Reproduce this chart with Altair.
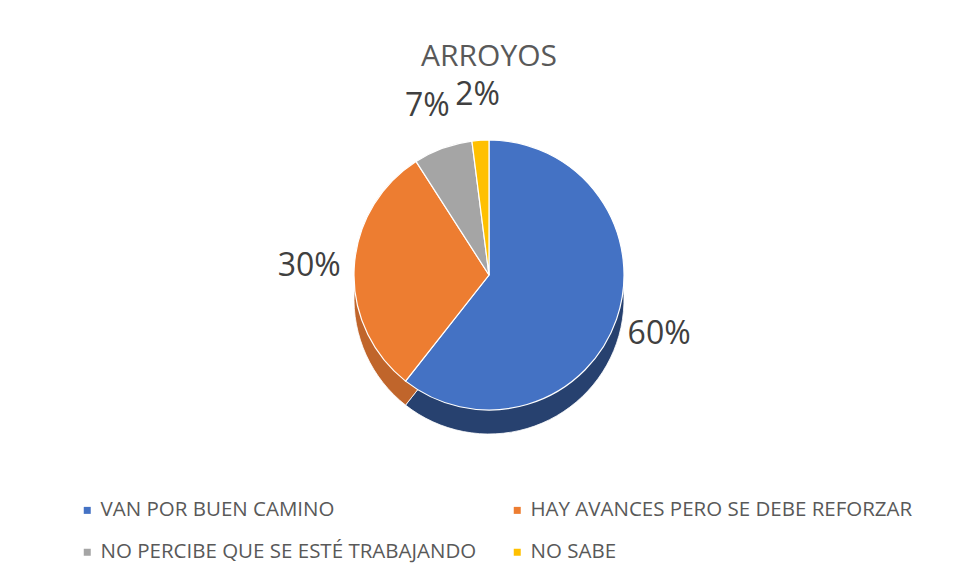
import altair as alt
import pandas as pd

categories = [
    "VAN POR BUEN CAMINO",
    "HAY AVANCES PERO SE DEBE REFORZAR",
    "NO PERCIBE QUE SE ESTÉ TRABAJANDO",
    "NO SABE",
]
values = [60, 30, 7, 2]
order_idx = [0, 1, 2, 3]

top_colors = ["#4472C4", "#ED7D31", "#A5A5A5", "#FFC000"]
side_colors = ["#27416F", "#C0652B", "#7C7C7C", "#BF9000"]

df = pd.DataFrame({"categoria": categories, "valor": values, "orden": order_idx})

FONT = "Open Sans"
R = 135
DEPTH = 24

base = alt.Chart(df).encode(
    theta=alt.Theta("valor:Q", stack=True),
    order=alt.Order("orden:O", sort="ascending"),
)

side = base.mark_arc(radius=R, yOffset=DEPTH, stroke="white", strokeWidth=0.8).encode(
    color=alt.Color(
        "categoria:N",
        sort=categories,
        scale=alt.Scale(domain=categories, range=side_colors),
        legend=None,
    )
)

top = base.mark_arc(radius=R, stroke="white", strokeWidth=1.2).encode(
    color=alt.Color(
        "categoria:N",
        sort=categories,
        scale=alt.Scale(domain=categories, range=top_colors),
        legend=alt.Legend(
            title=None,
            orient="none",
            legendX=49,
            legendY=419,
            columns=2,
            direction="horizontal",
            symbolType="square",
            symbolSize=49,
            symbolStrokeWidth=0,
            labelFont=FONT,
            labelFontSize=20.5,
            labelColor="#595959",
            labelLimit=0,
            labelOffset=3,
            rowPadding=21,
            columnPadding=30,
            padding=0,
        ),
    )
)

labels = (
    base.transform_calculate(etiqueta="datum.valor + '%'")
    .mark_text(radius=R + 45, font=FONT, fontSize=32, color="#404040")
    .encode(text="etiqueta:N")
)

chart = (
    alt.layer(side, top, labels)
    .resolve_scale(color="independent")
    .properties(
        width=922,
        height=388,
        padding={"left": 20, "top": 73, "right": 0, "bottom": 96},
        autosize=alt.AutoSizeParams(type="none"),
        title=alt.TitleParams(
            "ARROYOS",
            font=FONT,
            fontSize=30,
            fontWeight="normal",
            color="#595959",
            anchor="middle",
            offset=14,
            dy=7,
        ),
    )
    .configure_view(stroke=None)
)

chart.save("out.html", embed_options={"renderer": "svg", "actions": False})
